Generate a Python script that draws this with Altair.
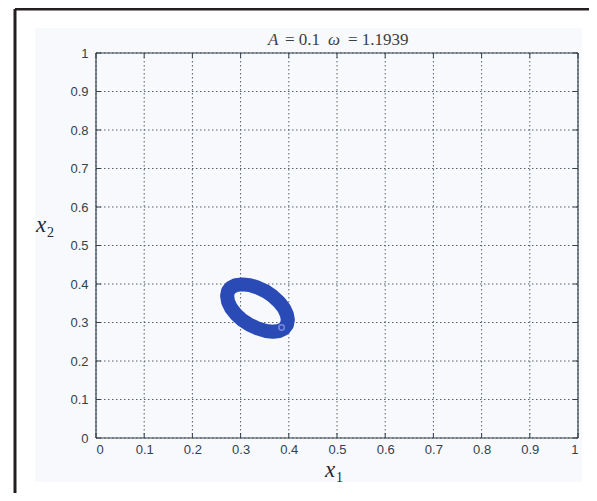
import altair as alt
import pandas as pd

# trajectory (x1, x2), going round the ring
x1_vals = [0.398, 0.396, 0.390, 0.380, 0.367, 0.352, 0.335, 0.319, 0.303, 0.290, 0.280, 0.274,
           0.272, 0.274, 0.280, 0.290, 0.303, 0.319, 0.335, 0.352, 0.367, 0.380, 0.390, 0.396, 0.398]
x2_vals = [0.307, 0.321, 0.337, 0.353, 0.368, 0.381, 0.391, 0.397, 0.399, 0.397, 0.391, 0.382,
           0.369, 0.354, 0.338, 0.322, 0.307, 0.294, 0.285, 0.278, 0.276, 0.278, 0.284, 0.294, 0.307]
start_x1 = [0.385]
start_x2 = [0.287]
tick_vals = [0.0, 0.1, 0.2, 0.3, 0.4, 0.5, 0.6, 0.7, 0.8, 0.9, 1.0]
title_parts = ["A", "= 0.1", "ω", "= 1.1939"]
x_label_parts = ["x", "1"]
y_label_parts = ["x", "2"]

W, H = 482, 385
INK = "#33414c"
GRID = "#56606a"
BLUE = "#2a4bb6"

traj = pd.DataFrame({"x1": x1_vals, "x2": x2_vals, "k": list(range(len(x1_vals)))})
start = pd.DataFrame({"x1": start_x1, "x2": start_x2})
ticks = pd.DataFrame({"t": tick_vals})
one = pd.DataFrame({"a": [0]})

xsc = alt.Scale(domain=[0, 1], nice=False, zero=False)
ysc = alt.Scale(domain=[0, 1], nice=False, zero=False)

x_axis = alt.Axis(values=tick_vals, format="~g", grid=False, ticks=False, domain=False,
                  labelFont="Liberation Sans", labelFontSize=13, labelColor=INK, labelPadding=5,
                  title=None, zindex=1)
y_axis = alt.Axis(values=tick_vals, format="~g", grid=False, ticks=False, domain=False,
                  labelFont="Liberation Sans", labelFontSize=13, labelColor=INK, labelPadding=8,
                  title=None, zindex=1)

X = lambda f: alt.X(f, scale=xsc, axis=x_axis)
Y = lambda f: alt.Y(f, scale=ysc, axis=y_axis)

bg = alt.Chart(one).mark_rect(color="#f7f9fc").encode(
    x=alt.value(-61), x2=alt.value(486), y=alt.value(-25), y2=alt.value(429))

vgrid = alt.Chart(ticks).mark_rule(color=GRID, strokeWidth=1, strokeDash=[1.5, 2.5]).encode(
    x=X("t:Q"), y=alt.value(0), y2=alt.value(H))
hgrid = alt.Chart(ticks).mark_rule(color=GRID, strokeWidth=1, strokeDash=[1.5, 2.5]).encode(
    y=Y("t:Q"), x=alt.value(0), x2=alt.value(W))

tick_b = alt.Chart(ticks).mark_rule(color=INK, strokeWidth=1).encode(
    x=X("t:Q"), y=alt.value(H), y2=alt.value(H - 5))
tick_t = alt.Chart(ticks).mark_rule(color=INK, strokeWidth=1).encode(
    x=X("t:Q"), y=alt.value(0), y2=alt.value(5))
tick_l = alt.Chart(ticks).mark_rule(color=INK, strokeWidth=1).encode(
    y=Y("t:Q"), x=alt.value(0), x2=alt.value(5))
tick_r = alt.Chart(ticks).mark_rule(color=INK, strokeWidth=1).encode(
    y=Y("t:Q"), x=alt.value(W), x2=alt.value(W - 5))

box = [
    alt.Chart(one).mark_rule(color=INK, strokeWidth=1.2).encode(x=alt.value(0), x2=alt.value(W), y=alt.value(0)),
    alt.Chart(one).mark_rule(color=INK, strokeWidth=1.2).encode(x=alt.value(0), x2=alt.value(W), y=alt.value(H)),
    alt.Chart(one).mark_rule(color=INK, strokeWidth=1.2).encode(x=alt.value(0), y=alt.value(0), y2=alt.value(H)),
    alt.Chart(one).mark_rule(color=INK, strokeWidth=1.2).encode(x=alt.value(W), y=alt.value(0), y2=alt.value(H)),
]

ring = alt.Chart(traj).mark_line(color=BLUE, strokeWidth=14, strokeJoin="round", strokeCap="round",
                                 interpolate="linear").encode(
    x=X("x1:Q"), y=Y("x2:Q"), order="k:Q")

start_pt = alt.Chart(start).mark_point(filled=False, color="#9da3ea", size=30, strokeWidth=1.5).encode(
    x=X("x1:Q"), y=Y("x2:Q"))


def txt(s, px, py, size, style="normal", color="#3a3f45", align="left"):
    return alt.Chart(one).mark_text(font="Liberation Serif", fontSize=size, fontStyle=style,
                                    color=color, align=align, baseline="alphabetic").encode(
        text=alt.value(s), x=alt.value(px), y=alt.value(py))


title_x = [172, 189, 232, 252]
title_style = ["italic", "normal", "italic", "normal"]
title_marks = [txt(p, px, -8, 17, st) for p, px, st in zip(title_parts, title_x, title_style)]

label_marks = [
    txt(x_label_parts[0], 229, 424, 23, "italic", "#1f2a33"),
    txt(x_label_parts[1], 240, 429, 14, "normal", "#1f2a33"),
    txt(y_label_parts[0], -60, 179, 23, "italic", "#1f2a33"),
    txt(y_label_parts[1], -49, 184, 14, "normal", "#1f2a33"),
]

frame = [
    alt.Chart(one).mark_rule(color="#231f20", strokeWidth=3).encode(
        x=alt.value(-81), x2=alt.value(520), y=alt.value(-44)),
    alt.Chart(one).mark_rule(color="#231f20", strokeWidth=3).encode(
        x=alt.value(-81), y=alt.value(-44), y2=alt.value(470)),
]

chart = alt.layer(bg, vgrid, hgrid, tick_b, tick_t, tick_l, tick_r, *box, ring, start_pt,
                  *title_marks, *label_marks, *frame).properties(
    width=W, height=H,
    autosize=alt.AutoSizeParams(type="none"),
    padding={"left": 88, "top": 45, "right": 11, "bottom": 55},
    background="white",
).configure_view(stroke=None)

chart.save("out.html", embed_options={"renderer": "svg", "actions": False})
